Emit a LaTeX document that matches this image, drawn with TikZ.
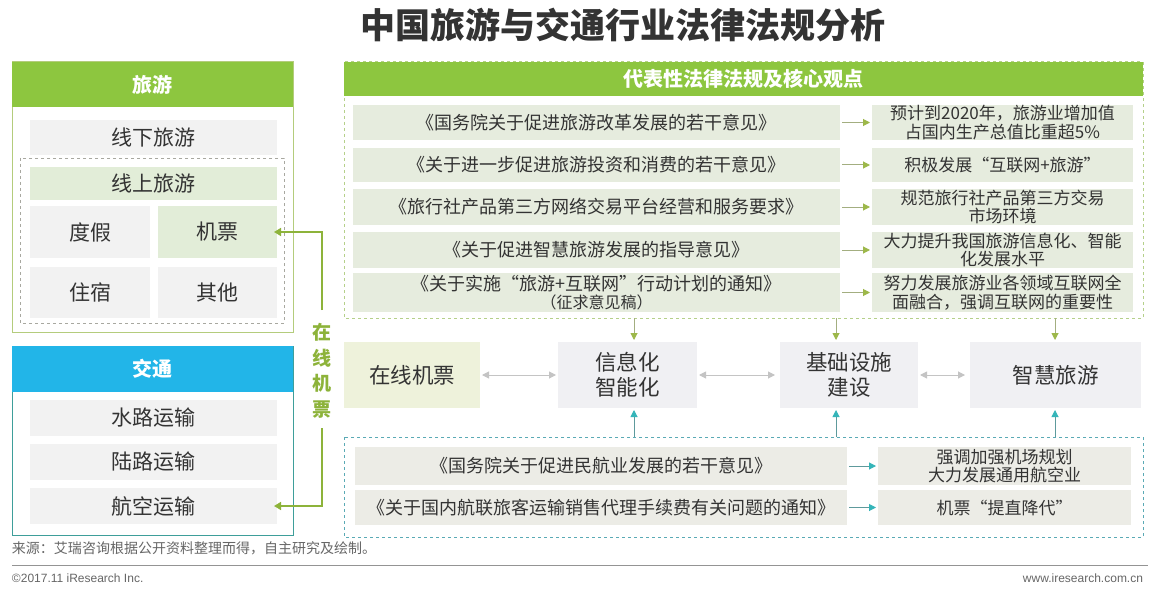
\documentclass[tikz,border=0pt]{standalone}
\usepackage{fontspec}
\setmainfont{Noto Sans CJK SC}
\newfontfamily\latfont{Liberation Sans}
\usetikzlibrary{arrows.meta,calc}
\definecolor{titlec}{HTML}{333333}
\definecolor{txtc}{HTML}{333333}
\definecolor{greenhdr}{HTML}{8DC63F}
\definecolor{tourbd}{HTML}{B4CC7C}
\definecolor{cyanhdr}{HTML}{22B5E8}
\definecolor{transbd}{HTML}{3E9E9A}
\definecolor{grayc}{HTML}{F2F2F2}
\definecolor{lgreen}{HTML}{E2EDD8}
\definecolor{tpfill}{HTML}{E6ECDE}
\definecolor{botfill}{HTML}{ECECE6}
\definecolor{monefill}{HTML}{EEF2DB}
\definecolor{mfill}{HTML}{F0F0F3}
\definecolor{olivec}{HTML}{9DB84A}
\definecolor{tealc}{HTML}{35B5B9}
\definecolor{tealshaft}{HTML}{5E9A9C}
\definecolor{oliveshaft}{HTML}{A3AE80}
\definecolor{grayarr}{HTML}{C4C4C4}
\definecolor{dashc}{HTML}{A8A8A0}
\definecolor{tpbd}{HTML}{B5D08A}
\definecolor{botbd}{HTML}{5AAAB5}
\definecolor{vgreen}{HTML}{8DB33A}
\definecolor{footc}{HTML}{666666}
\begin{document}
\begin{tikzpicture}[x=1pt,y=-1pt,
  every node/.style={inner sep=0pt, outer sep=0pt},
  cell/.style={rectangle, align=center, text=txtc, font=\fontsize{21}{24}\selectfont},
  hdr/.style={rectangle, align=center, text=white, font=\fontsize{20}{24}\selectfont\bfseries},
  law/.style={rectangle, align=center, text=txtc, fill=tpfill, font=\fontsize{18}{18.5}\selectfont},
  pt/.style={rectangle, align=center, text=txtc, fill=tpfill, font=\fontsize{17}{18.5}\selectfont},
  blaw/.style={rectangle, align=center, text=txtc, fill=botfill, font=\fontsize{18}{18.5}\selectfont},
  bpt/.style={rectangle, align=center, text=txtc, fill=botfill, font=\fontsize{17}{18.5}\selectfont},
  mid/.style={rectangle, align=center, text=txtc, fill=mfill, minimum height=66, font=\fontsize{21.5}{25}\selectfont},
  garrow/.style={draw=oliveshaft, line width=1pt, -{Triangle[length=7pt,width=7pt,color=olivec]}},
  tarrow/.style={draw=tealshaft, line width=1pt, -{Triangle[length=7pt,width=7pt,color=tealc]}},
  grarrow/.style={draw=grayarr, line width=1pt, {Triangle[length=7pt,width=7pt]}-{Triangle[length=7pt,width=7pt]}},
  vline/.style={draw=vgreen, line width=1.6pt, -{Triangle[length=7pt,width=8pt]}, shorten >=-3pt}
]
\useasboundingbox (0,0) rectangle (1153,596);
\fill[white] (0,0) rectangle (1153,596);

% title
\node[font=\fontsize{35}{40}\selectfont\bfseries, text=titlec] (title) at (623,25) {中国旅游与交通行业法律法规分析};

% ---------- tourism panel ----------
\draw[draw=tourbd, line width=1pt, fill=white] (12,62) rectangle (293,332);
\node[hdr, fill=greenhdr, minimum width=281, minimum height=45] (tourhdr) at (152.5,84.5) {旅游};
\node[cell, fill=grayc, minimum width=247, minimum height=35] (offline) at (153.5,137.5) {线下旅游};
\draw[dashed, draw=dashc, line width=0.8pt] (20,158) rectangle (284,323);
\node[cell, fill=lgreen, minimum width=247, minimum height=33] (online) at (153.5,183.5) {线上旅游};
\node[cell, fill=grayc, minimum width=120, minimum height=52] (dujia) at (90,232) {度假};
\node[cell, fill=lgreen, minimum width=119, minimum height=52] (jipiao) at (217.5,232) {机票};
\node[cell, fill=grayc, minimum width=120, minimum height=51] (zhusu) at (90,292.5) {住宿};
\node[cell, fill=grayc, minimum width=119, minimum height=51] (qita) at (217.5,292.5) {其他};

% ---------- transport panel ----------
\draw[draw=transbd, line width=1pt, fill=white] (12,346) rectangle (293,535);
\node[hdr, fill=cyanhdr, minimum width=281, minimum height=46] (transhdr) at (152.5,369) {交通};
\node[cell, fill=grayc, minimum width=247, minimum height=36] (water) at (153.5,418) {水路运输};
\node[cell, fill=grayc, minimum width=247, minimum height=36] (land) at (153.5,462) {陆路运输};
\node[cell, fill=grayc, minimum width=247, minimum height=36] (air) at (153.5,506) {航空运输};

% ---------- vertical connector ----------
\node[align=center, text=vgreen, font=\fontsize{19}{25.5}\selectfont\bfseries] (zxjp) at (322,371) {在\\线\\机\\票};
\coordinate (vt) at (322,310);
\coordinate (vb) at (322,428);
\draw[vline] (vt) |- (jipiao.east);
\draw[vline] (vb) |- (air.east);

% ---------- top right panel ----------
\draw[dashed, draw=tpbd, line width=1pt, fill=white] (344,62) rectangle (1143,318);
\node[hdr, fill=greenhdr, minimum width=799, minimum height=34] (tphdr) at (743.5,79) {代表性法律法规及核心观点};

\node[law, minimum width=487, minimum height=35] (l1) at (596.5,122.5) {《国务院关于促进旅游改革发展的若干意见》};
\node[law, minimum width=487, minimum height=34] (l2) at (596.5,165) {《关于进一步促进旅游投资和消费的若干意见》};
\node[law, minimum width=487, minimum height=36] (l3) at (596.5,207) {《旅行社产品第三方网络交易平台经营和服务要求》};
\node[law, minimum width=487, minimum height=36] (l4) at (596.5,250) {《关于促进智慧旅游发展的指导意见》};
\node[law, minimum width=487, minimum height=39] (l5) at (596.5,292.5) {《关于实施“旅游+互联网”行动计划的通知》\\{\fontsize{16}{18}\selectfont（征求意见稿）}};

\node[pt, minimum width=261, minimum height=35] (r1) at (1002.5,122.5) {预计到2020年，旅游业增加值\\占国内生产总值比重超5\%};
\node[pt, minimum width=261, minimum height=34] (r2) at (1002.5,165) {积极发展“互联网+旅游”};
\node[pt, minimum width=261, minimum height=36] (r3) at (1002.5,207) {规范旅行社产品第三方交易\\市场环境};
\node[pt, minimum width=261, minimum height=36] (r4) at (1002.5,250) {大力提升我国旅游信息化、智能\\化发展水平};
\node[pt, minimum width=261, minimum height=39] (r5) at (1002.5,292.5) {努力发展旅游业各领域互联网全\\面融合，强调互联网的重要性};

\foreach \i in {1,...,5} {
  \draw[garrow, shorten <=2pt, shorten >=2pt] (l\i.east) -- (r\i.west);
}

% ---------- middle row ----------
\node[mid, fill=monefill, minimum width=136] (m1) at (412,375) {在线机票};
\node[mid, minimum width=139] (m2) at (627.5,375) {信息化\\智能化};
\node[mid, minimum width=138] (m3) at (849,375) {基础设施\\建设};
\node[mid, minimum width=171] (m4) at (1055.5,375) {智慧旅游};

\draw[grarrow, shorten <=2pt, shorten >=2pt] (m1.east) -- (m2.west);
\draw[grarrow, shorten <=2pt, shorten >=5pt] (m2.east) -- (m3.west);
\draw[grarrow, shorten <=2pt, shorten >=5pt] (m3.east) -- (m4.west);

\coordinate (d1) at (634,318);
\coordinate (d2) at (836,318);
\coordinate (d3) at (1055,318);
\draw[garrow, shorten >=2pt] (d1) -- (d1 |- m2.north);
\draw[garrow, shorten >=2pt] (d2) -- (d2 |- m3.north);
\draw[garrow, shorten >=2pt] (d3) -- (d3 |- m4.north);

% ---------- bottom panel ----------
\draw[dashed, draw=botbd, line width=1pt, fill=white] (344,437) rectangle (1143,537);
\node[blaw, minimum width=492, minimum height=38] (b1) at (601,466) {《国务院关于促进民航业发展的若干意见》};
\node[blaw, minimum width=492, minimum height=35] (b2) at (601,507.5) {《关于国内航联旅客运输销售代理手续费有关问题的通知》};
\node[bpt, minimum width=253, minimum height=38] (c1) at (1004.5,466) {强调加强机场规划\\大力发展通用航空业};
\node[bpt, minimum width=253, minimum height=35] (c2) at (1004.5,507.5) {机票“提直降代”};
\draw[tarrow, shorten <=2pt, shorten >=2pt] (b1.east) -- (c1.west);
\draw[tarrow, shorten <=2pt, shorten >=2pt] (b2.east) -- (c2.west);

\coordinate (u1) at (634,437);
\coordinate (u2) at (836,437);
\coordinate (u3) at (1055,437);
\draw[tarrow, shorten >=2pt] (u1) -- (u1 |- m2.south);
\draw[tarrow, shorten >=2pt] (u2) -- (u2 |- m3.south);
\draw[tarrow, shorten >=2pt] (u3) -- (u3 |- m4.south);

% ---------- footer ----------
\node[anchor=west, text=footc, font=\fontsize{14}{16}\selectfont] (src) at (12,548) {来源：艾瑞咨询根据公开资料整理而得，自主研究及绘制。};
\draw[draw=footc!70, line width=0.8pt] (12,565) -- (1148,565);
\node[anchor=west, text=footc, font=\latfont\fontsize{12}{14}\selectfont] (copy) at (12,578) {©2017.11 iResearch Inc.};
\node[anchor=east, text=footc, font=\latfont\fontsize{12}{14}\selectfont] (web) at (1143,578) {www.iresearch.com.cn};
\end{tikzpicture}
\end{document}
